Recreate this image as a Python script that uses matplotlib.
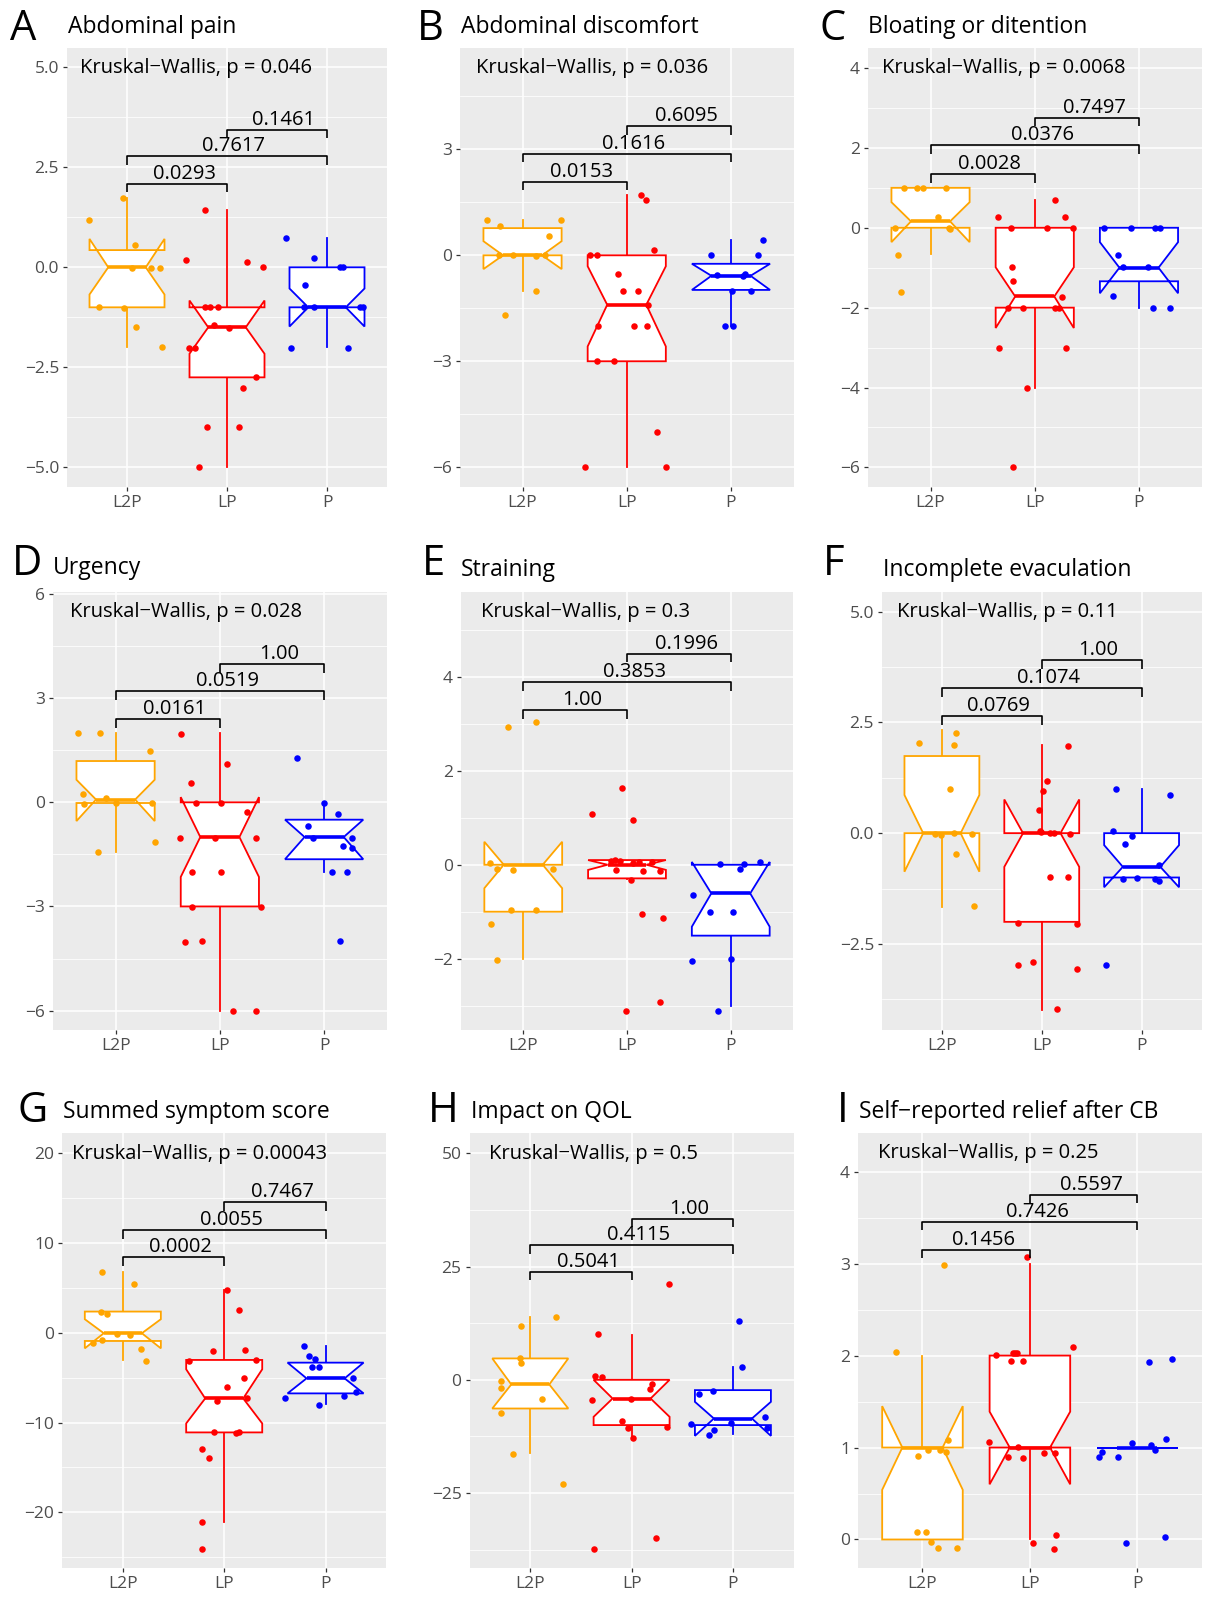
import matplotlib
matplotlib.use('Agg')
import matplotlib.pyplot as plt

plt.rcParams['font.family'] = ['Open Sans', 'DejaVu Sans']

W, H = 1211, 1599

groups = ['L2P', 'LP', 'P']
group_colors = ['#FFA500', '#FF0000', '#0000FF']
MINUS = '\u2212'

# ---------------- data ----------------
# box stats per group: (whislo, q1, cilo, med, cihi, q3, whishi)
A_title = 'Abdominal pain'
A_kw = '0.046'
A_pairs = ['0.0293', '0.7617', '0.1461']
A_vals = [[1.74, 1.17, 0.56, -0.02, -0.02, -0.02, -0.99, -1.02, -1.48, -2.0],
          [1.42, 0.18, 0.13, 0.0, -0.99, -0.99, -0.99, -1.43, -1.52, -2.02, -2.02, -2.75, -3.02, -4.0, -4.0, -5.0],
          [0.74, 0.24, -0.45, 0.0, 0.0, -0.99, -0.99, -0.99, -0.99, -2.02, -2.02]]
A_jit = [[-0.04, -0.38, 0.08, 0.05, 0.24, 0.33, -0.28, -0.03, 0.09, 0.35],
         [-0.22, -0.41, 0.2, 0.36, -0.22, -0.17, -0.09, -0.13, 0.02, -0.38, -0.32, 0.29, 0.16, -0.2, 0.12, -0.28],
         [-0.41, -0.13, -0.22, 0.13, 0.16, -0.23, -0.13, 0.33, 0.36, -0.36, 0.21]]
A_box = [[-2.0, -1.0, -0.68, 0.0, 0.71, 0.43, 1.73],
         [-5.0, -2.75, -2.16, -1.5, -0.83, -1.0, 1.42],
         [-2.0, -1.0, -1.48, -1.0, -0.53, 0.0, 0.74]]

B_title = 'Abdominal discomfort'
B_kw = '0.036'
B_pairs = ['0.0153', '0.1616', '0.6095']
B_vals = [[0.99, 0.82, 1.01, 0.56, 0.0, 0.0, -0.02, 0.0, -1.02, -1.68],
          [1.70, 1.58, 0.14, 0.0, 0.0, -0.52, -1.0, -1.02, -1.42, -1.99, -1.99, -2.01, -3.0, -3.0, -5.01, -6.0, -6.0],
          [0.42, 0.0, 0.0, -0.57, -0.59, -0.52, -1.0, -1.0, -2.01, -2.01]]
B_jit = [[-0.34, -0.22, 0.37, 0.25, -0.23, -0.09, 0.13, 0.22, 0.13, -0.17],
         [0.14, 0.18, 0.26, -0.35, -0.29, -0.08, -0.04, 0.11, 0.2, -0.28, 0.07, 0.19, -0.29, -0.12, 0.29, -0.4, 0.38],
         [0.31, -0.19, 0.26, -0.13, 0.12, 0.13, 0.01, 0.19, -0.06, 0.02]]
B_box = [[-1.0, 0.0, -0.39, 0.0, 0.40, 0.77, 1.0],
         [-6.0, -3.0, -2.58, -1.4, -0.31, 0.0, 1.72],
         [-2.0, -0.98, -0.98, -0.58, -0.24, -0.24, 0.42]]

C_title = 'Bloating or ditention'
C_kw = '0.0068'
C_pairs = ['0.0028', '0.0376', '0.7497']
C_vals = [[0.99, 0.99, 0.99, 0.99, 0.28, 0.0, 0.0, -0.02, -0.68, -1.61],
          [0.70, 0.28, 0.28, 0.0, 0.0, 0.0, -0.99, -1.34, -1.74, -2.0, -2.0, -2.0, -2.0, -3.01, -3.01, -4.0, -6.0],
          [0.0, 0.0, 0.0, 0.0, -0.68, -0.99, -0.99, -1.72, -2.01, -2.01]]
C_jit = [[-0.25, -0.13, -0.07, 0.15, 0.07, -0.34, 0.18, 0.19, -0.31, -0.28],
         [0.19, -0.35, 0.29, -0.23, 0.12, 0.37, -0.22, -0.21, 0.26, -0.26, -0.11, 0.19, 0.23, -0.34, 0.3, -0.07, -0.21],
         [-0.34, -0.08, 0.15, 0.2, -0.2, -0.15, 0.09, -0.25, 0.13, 0.3]]
C_box = [[-0.65, 0.0, -0.36, 0.16, 0.64, 1.0, 1.0],
         [-4.0, -2.0, -2.51, -1.72, -0.99, 0.0, 0.70],
         [-2.0, -1.34, -1.64, -1.0, -0.36, 0.0, 0.0]]

D_title = 'Urgency'
D_kw = '0.028'
D_pairs = ['0.0161', '0.0519', '1.00']
D_vals = [[2.0, 2.0, 1.47, 0.23, -0.04, 0.13, -0.02, -0.02, -1.44, -1.15],
          [1.98, 1.11, 0.55, -0.02, -0.02, -0.28, -1.02, -1.02, -1.02, -2.0, -2.0, -3.01, -3.01, -4.02, -4.0, -6.02, -6.02],
          [1.28, -0.02, -0.35, -0.69, -1.02, -1.02, -1.26, -1.31, -2.0, -2.0, -4.0]]
D_jit = [[-0.36, -0.15, 0.33, -0.31, -0.3, -0.09, 0.0, 0.35, -0.17, 0.38],
         [-0.37, 0.07, -0.28, -0.23, 0.01, 0.26, -0.38, -0.05, 0.35, -0.27, 0.01, -0.27, 0.39, -0.33, -0.17, 0.13, 0.35],
         [-0.26, 0.0, 0.13, -0.15, -0.11, 0.27, 0.18, 0.27, 0.08, 0.22, 0.15]]
D_box = [[-1.43, -0.02, -0.54, 0.08, 0.65, 1.19, 2.0],
         [-6.0, -3.0, -2.15, -1.0, 0.15, 0.0, 2.0],
         [-2.0, -1.64, -1.64, -1.0, -0.5, -0.5, 0.0]]

E_title = 'Straining'
E_kw = '0.3'
E_pairs = ['1.00', '0.3853', '0.1996']
E_vals = [[2.93, 3.04, 0.03, -0.08, -0.11, -0.08, -0.96, -0.96, -1.27, -2.03],
          [1.64, 1.09, 0.95, 0.08, 0.10, 0.08, 0.03, 0.06, 0.05, -0.11, -0.13, -0.13, -0.33, -1.05, -1.13, -3.11, -2.93],
          [-0.65, 0.01, -0.08, 0.01, 0.06, -1.0, -1.0, -2.05, -2.01, -3.11]]
E_jit = [[-0.15, 0.12, -0.32, -0.25, -0.1, 0.29, -0.12, 0.12, -0.31, -0.25],
         [-0.05, -0.34, 0.06, -0.15, -0.12, -0.07, 0.06, 0.12, 0.24, -0.11, 0.15, 0.32, 0.04, 0.14, 0.35, -0.01, 0.32],
         [-0.36, -0.1, 0.09, 0.13, 0.28, -0.2, 0.02, -0.37, 0.0, -0.12]]
E_box = [[-2.0, -1.0, -0.5, 0.0, 0.49, 0.0, 0.0],
         [-0.3, -0.29, -0.11, 0.0, 0.1, 0.1, 0.1],
         [-3.0, -1.51, -1.32, -0.61, 0.06, 0.0, 0.0]]

F_title = 'Incomplete evaculation'
F_kw = '0.11'
F_pairs = ['0.0769', '0.1074', '1.00']
F_vals = [[2.03, 2.27, 2.0, 1.0, -0.03, -0.05, 0.0, -0.01, -0.47, -1.64],
          [1.97, 1.17, 0.95, 0.52, 0.05, 0.03, 0.0, 0.0, -0.01, -1.0, -0.98, -2.02, -2.06, -2.97, -2.91, -3.06, -3.97],
          [1.0, 0.87, 0.04, -0.06, -0.25, -0.71, -1.04, -1.02, -1.04, -1.07, -2.98]]
F_jit = [[-0.23, 0.14, 0.12, 0.08, -0.07, -0.01, 0.12, 0.3, 0.14, 0.32],
         [0.26, 0.05, 0.01, -0.03, -0.02, -0.01, 0.08, 0.12, 0.28, 0.08, 0.26, -0.24, 0.35, -0.24, -0.09, 0.35, 0.15],
         [-0.26, 0.28, -0.29, -0.1, -0.17, 0.17, -0.19, -0.05, 0.13, 0.17, -0.36]]
F_box = [[-1.66, 0.0, -0.87, 0.0, 0.86, 1.74, 2.32],
         [-3.99, -2.0, -0.76, 0.0, 0.76, 0.0, 1.98],
         [-1.0, -1.0, -1.22, -0.76, -0.27, 0.0, 1.0]]

G_title = 'Summed symptom score'
G_kw = '0.00043'
G_pairs = ['0.0002', '0.0055', '0.7467']
G_vals = [[6.72, 5.38, 2.34, 2.04, -0.19, -0.26, -1.11, -0.82, -1.86, -3.16],
          [4.75, 2.53, -2.04, -1.93, -3.16, -3.04, -5.09, -6.02, -7.58, -7.32, -11.03, -11.21, -11.03, -13.0, -14.0, -21.05, -24.1],
          [-1.49, -2.56, -2.9, -3.79, -3.79, -5.09, -7.24, -7.06, -6.65, -8.1]]
G_jit = [[-0.21, 0.11, -0.22, -0.16, -0.06, 0.07, -0.29, -0.21, 0.18, 0.23],
         [0.03, 0.15, -0.11, 0.21, -0.35, 0.31, 0.2, 0.03, -0.07, 0.22, -0.1, 0.12, 0.15, -0.22, -0.15, -0.22, -0.22],
         [-0.21, -0.16, -0.1, -0.13, -0.06, 0.27, -0.4, 0.18, 0.3, -0.06]]
G_box = [[-3.04, -0.93, -1.75, -0.07, 1.49, 2.34, 6.72],
         [-21.05, -11.1, -10.1, -7.32, -4.08, -3.04, 4.75],
         [-7.98, -6.76, -6.76, -5.09, -3.34, -3.34, -1.49]]

H_title = 'Impact on QOL'
H_kw = '0.5'
H_pairs = ['0.5041', '0.4115', '1.00']
H_vals = [[11.86, 13.85, 4.72, 3.61, -0.29, -1.77, -4.13, -7.44, -16.29, -22.92],
          [21.08, 10.1, 0.88, 0.66, -0.88, -2.14, -4.5, -4.35, -8.99, -10.54, -10.39, -12.82, -34.93, -37.44],
          [13.04, 2.73, -3.17, -2.51, -9.73, -9.43, -8.25, -11.13, -12.23, -10.54]]
H_jit = [[-0.09, 0.25, -0.1, -0.09, -0.29, -0.29, 0.12, -0.29, -0.17, 0.32],
         [0.37, -0.33, -0.36, -0.29, 0.2, 0.18, -0.39, -0.01, -0.09, -0.04, 0.35, 0.01, 0.24, -0.37],
         [0.06, 0.09, -0.33, -0.2, -0.41, -0.02, 0.32, -0.19, -0.24, 0.34]]
H_box = [[-16.07, -6.34, -6.34, -1.03, 4.72, 4.72, 13.85],
         [-12.82, -10.0, -8.18, -4.13, 0.0, 0.0, 9.87],
         [-11.86, -10.0, -12.38, -8.55, -4.86, -2.28, 2.87]]

I_title = 'Self\u2212reported relief after CB'
I_kw = '0.25'
I_pairs = ['0.1456', '0.7426', '0.5597']
I_vals = [[2.04, 2.98, 1.08, 0.97, 0.97, 0.95, 0.91, 0.08, 0.08, -0.03, -0.09, -0.09],
          [3.07, 2.09, 2.01, 2.03, 2.03, 2.03, 1.94, 1.94, 1.06, 1.01, 0.9, 0.89, 0.94, 0.94, 0.05, -0.04, -0.1],
          [1.93, 1.96, 1.05, 1.09, 1.03, 0.97, 0.9, 0.95, 0.9, -0.04, 0.03]]
I_jit = [[-0.25, 0.2, 0.24, 0.05, 0.16, 0.22, -0.04, -0.05, 0.03, 0.08, 0.14, 0.32],
         [-0.03, 0.4, -0.32, -0.16, -0.14, -0.12, -0.18, -0.06, -0.38, -0.11, -0.2, -0.06, 0.13, 0.23, 0.24, 0.03, 0.22],
         [0.11, 0.32, -0.05, 0.27, 0.13, 0.16, -0.36, -0.33, -0.18, -0.11, 0.26]]
I_box = [[0.0, 0.0, 0.54, 1.0, 1.45, 1.0, 2.0],
         [0.0, 1.0, 0.6, 1.0, 1.39, 2.0, 3.0],
         [1.0, 1.0, 1.0, 1.0, 1.0, 1.0, 1.0]]

panels = {
    'A': (A_title, A_kw, A_pairs, A_vals, A_jit, A_box),
    'B': (B_title, B_kw, B_pairs, B_vals, B_jit, B_box),
    'C': (C_title, C_kw, C_pairs, C_vals, C_jit, C_box),
    'D': (D_title, D_kw, D_pairs, D_vals, D_jit, D_box),
    'E': (E_title, E_kw, E_pairs, E_vals, E_jit, E_box),
    'F': (F_title, F_kw, F_pairs, F_vals, F_jit, F_box),
    'G': (G_title, G_kw, G_pairs, G_vals, G_jit, G_box),
    'H': (H_title, H_kw, H_pairs, H_vals, H_jit, H_box),
    'I': (I_title, I_kw, I_pairs, I_vals, I_jit, I_box),
}

# ---------------- layout (pixels / axis settings) ----------------
layout = {
    'A': dict(rect=(67, 48, 387, 487), ylim=(-5.49, 5.48), yticks=[-5, -2.5, 0, 2.5, 5], dec=1,
              minor=[-3.75, -1.25, 1.25, 3.75], kw_xy=(0.533, 4.98), br=(2.09, 2.775, 3.44), tip=0.217,
              letter=(10, 40), title=(68, 32.7)),
    'B': dict(rect=(460, 48, 793.5, 487), ylim=(-6.56, 5.87), yticks=[-6, -3, 0, 3], dec=0,
              minor=[-4.5, -1.5, 1.5, 4.5], kw_xy=(0.558, 5.3), br=(2.09, 2.88, 3.65), tip=0.236,
              letter=(417, 40), title=(461, 32.7)),
    'C': dict(rect=(868, 48, 1201.5, 487), ylim=(-6.49, 4.5), yticks=[-6, -4, -2, 0, 2, 4], dec=0,
              minor=[-5, -3, -1, 1, 3], kw_xy=(0.537, 4.0), br=(1.35, 2.06, 2.76), tip=0.22,
              letter=(820, 40), title=(868, 32.7)),
    'D': dict(rect=(53, 592, 386.7, 1030), ylim=(-6.56, 6.06), yticks=[-6, -3, 0, 3, 6], dec=0,
              minor=[-4.5, -1.5, 1.5, 4.5], kw_xy=(0.56, 5.48), br=(2.39, 3.2, 3.99), tip=0.25,
              letter=(12, 575), title=(53, 574.5)),
    'E': dict(rect=(461, 592, 793, 1030), ylim=(-3.52, 5.81), yticks=[-2, 0, 2, 4], dec=0,
              minor=[-3, -1, 1, 3, 5], kw_xy=(0.592, 5.38), br=(3.29, 3.89, 4.49), tip=0.18,
              letter=(422, 575), title=(461, 575.5)),
    'F': dict(rect=(882, 592, 1201.5, 1030), ylim=(-4.44, 5.44), yticks=[-2.5, 0, 2.5, 5], dec=1,
              minor=[-3.75, -1.25, 1.25, 3.75], kw_xy=(0.552, 4.98), br=(2.65, 3.28, 3.91), tip=0.2,
              letter=(823, 575), title=(883, 575.5)),
    'G': dict(rect=(62, 1133, 386.4, 1568), ylim=(-26.18, 22.2), yticks=[-20, -10, 0, 10, 20], dec=0,
              minor=[-25, -15, -5, 5, 15], kw_xy=(0.496, 19.9), br=(8.36, 11.44, 14.52), tip=1.0,
              letter=(17, 1122), title=(63, 1118)),
    'H': dict(rect=(469.5, 1133, 793.7, 1568), ylim=(-41.56, 54.5), yticks=[-25, 0, 25, 50], dec=0,
              minor=[-37.5, -12.5, 12.5, 37.5], kw_xy=(0.592, 49.9), br=(23.88, 29.7, 35.52), tip=1.84,
              letter=(428, 1122), title=(471, 1118)),
    'I': dict(rect=(858, 1133, 1201.8, 1568), ylim=(-0.31, 4.42), yticks=[0, 1, 2, 3, 4], dec=0,
              minor=[0.5, 1.5, 2.5, 3.5], kw_xy=(0.59, 4.2), br=(3.15, 3.45, 3.75), tip=0.09,
              letter=(837, 1122), title=(859, 1118)),
}

pair_idx = [(1, 2), (1, 3), (2, 3)]

fig = plt.figure(figsize=(W / 100, H / 100), dpi=100)


def fx(px):
    return px / W


def fy(py):
    return 1 - py / H


for key, (title, kw, pairs, vals, jit, box) in panels.items():
    L = layout[key]
    l, t, r, b = L['rect']
    ax = fig.add_axes([fx(l), fy(b), (r - l) / W, (b - t) / H])
    ax.set_facecolor('#EBEBEB')
    for s in ax.spines.values():
        s.set_visible(False)

    stats = []
    for bs in box:
        whislo, q1, cilo, med, cihi, q3, whishi = bs
        stats.append(dict(whislo=whislo, q1=q1, cilo=cilo, med=med, cihi=cihi,
                          q3=q3, whishi=whishi, fliers=[]))
    bp = ax.bxp(stats, positions=[1, 2, 3], widths=0.75, shownotches=True,
                showcaps=False, showfliers=False, patch_artist=True, manage_ticks=False)
    for i, c in enumerate(group_colors):
        bp['boxes'][i].set(facecolor='white', edgecolor=c, linewidth=1.3, zorder=2)
        bp['whiskers'][2 * i].set(color=c, linewidth=1.3, zorder=1.5)
        bp['whiskers'][2 * i + 1].set(color=c, linewidth=1.3, zorder=1.5)
        bp['medians'][i].set(color=c, linewidth=2.6, zorder=3, solid_capstyle='butt')

    for i, c in enumerate(group_colors):
        xs = [i + 1 + d for d in jit[i]]
        ax.scatter(xs, vals[i], s=22, color=c, linewidths=0, zorder=4)

    ax.set_xlim(0.4, 3.6)
    ax.set_ylim(*L['ylim'])
    ax.set_xticks([1, 2, 3])
    ax.set_xticklabels(groups)
    ax.set_yticks(L['yticks'])
    fmt = '{:.1f}' if L['dec'] == 1 else '{:.0f}'
    ax.set_yticklabels([fmt.format(v).replace('-', MINUS) for v in L['yticks']])
    ax.set_yticks(L['minor'], minor=True)
    ax.grid(which='major', color='white', linewidth=1.1, zorder=0)
    ax.grid(which='minor', axis='y', color='white', linewidth=0.55, zorder=0)
    ax.set_axisbelow(True)
    ax.tick_params(which='major', length=3.2, width=0.9, color='#333333',
                   labelcolor='#4D4D4D', labelsize=12.5, pad=2.5)
    ax.tick_params(which='minor', length=0)

    # pairwise brackets
    for k, (g1, g2) in enumerate(pair_idx):
        y = L['br'][k]
        tip = L['tip']
        ax.plot([g1, g1, g2, g2], [y - tip, y, y, y - tip], color='black',
                linewidth=1.2, zorder=5, solid_capstyle='butt')
        ax.text((g1 + g2) / 2 + 0.07, y, pairs[k], ha='center', va='bottom',
                fontsize=14.5, color='black', zorder=6)

    kx, ky = L['kw_xy']
    ax.text(kx, ky, 'Kruskal' + MINUS + 'Wallis, p = ' + kw, ha='left', va='center',
            fontsize=14.5, color='black', zorder=6)

    lx, ly = L['letter']
    fig.text(fx(lx), fy(ly), key, ha='left', va='baseline', fontsize=30, color='black')
    tx, ty = L['title']
    fig.text(fx(tx), fy(ty), title, ha='left', va='baseline', fontsize=16.5, color='black')

fig.savefig('out.png', dpi=100)
